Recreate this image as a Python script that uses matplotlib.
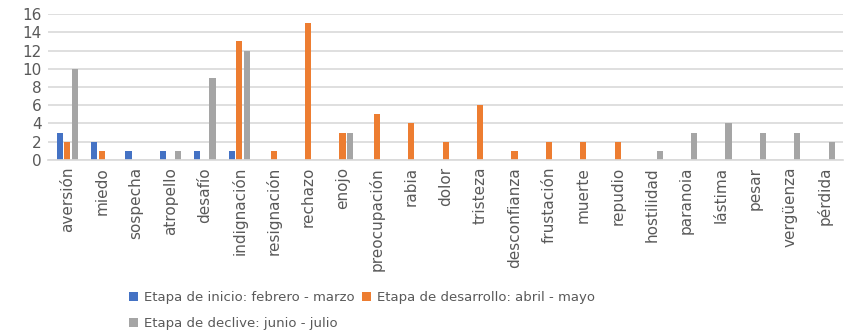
import matplotlib.pyplot as plt
import numpy as np

categorias = ['aversión', 'miedo', 'sospecha', 'atropello', 'desafío', 'indignación',
              'resignación', 'rechazo', 'enojo', 'preocupación', 'rabia', 'dolor',
              'tristeza', 'desconfianza', 'frustación', 'muerte', 'repudio',
              'hostilidad', 'paranoia', 'lástima', 'pesar', 'vergüenza', 'pérdida']
inicio = [3, 2, 1, 1, 1, 1, 0, 0, 0, 0, 0, 0, 0, 0, 0, 0, 0, 0, 0, 0, 0, 0, 0]
desarrollo = [2, 1, 0, 0, 0, 13, 1, 15, 3, 5, 4, 2, 6, 1, 2, 2, 2, 0, 0, 0, 0, 0, 0]
declive = [10, 0, 0, 1, 9, 12, 0, 0, 3, 0, 0, 0, 0, 0, 0, 0, 0, 1, 3, 4, 3, 3, 2]
yticks = [0, 2, 4, 6, 8, 10, 12, 14, 16]

plt.rcParams['font.family'] = ['Liberation Sans Narrow', 'DejaVu Sans']
gris_txt = '#595959'

fig = plt.figure(figsize=(8.49, 3.34), dpi=100)
ax = fig.add_axes([0.057, 0.521, 0.936, 0.437])

x = np.arange(len(categorias))
w = 0.2
b1 = ax.bar(x - w * 1.1, inicio, w * 0.9, color='#4472C4', label='Etapa de inicio: febrero - marzo')
b2 = ax.bar(x, desarrollo, w * 0.9, color='#ED7D31', label='Etapa de desarrollo: abril - mayo')
b3 = ax.bar(x + w * 1.1, declive, w * 0.9, color='#A5A5A5', label='Etapa de declive: junio - julio')

ax.set_xlim(-0.55, len(categorias) - 0.45)
ax.set_ylim(0, 16)
ax.set_yticks(yticks)
ax.set_yticklabels([str(t) for t in yticks], fontsize=11, color=gris_txt,
                   family=['DejaVu Sans'])
ax.set_xticks(x)
ax.set_xticklabels(categorias, rotation=90, fontsize=11, color=gris_txt)
ax.tick_params(length=0, pad=5)
ax.grid(axis='y', color='#D9D9D9', linewidth=1.2)
ax.set_axisbelow(True)
for s in ['top', 'right', 'left']:
    ax.spines[s].set_visible(False)
ax.spines['bottom'].set_color('#D9D9D9')
ax.spines['bottom'].set_linewidth(1.2)

fig.legend([b1, b3, b2], [b1.get_label(), b3.get_label(), b2.get_label()],
           ncol=2, loc='upper left', bbox_to_anchor=(0.138, 0.165),
           frameon=False, handlelength=0.7, handleheight=0.7,
           handletextpad=0.4, columnspacing=0.6, labelspacing=1.0,
           labelcolor=gris_txt, prop={'family': ['DejaVu Sans'], 'size': 9.5})

fig.savefig('out.png', dpi=100)
